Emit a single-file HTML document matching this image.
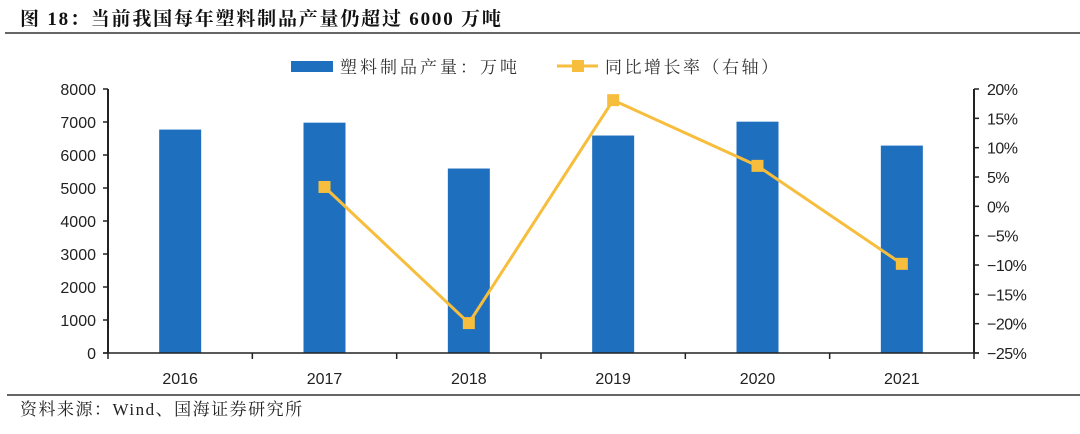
<!DOCTYPE html>
<html><head><meta charset="utf-8"><style>
body{margin:0;background:#fff;}
svg text{font-family:"Liberation Sans","Noto Sans CJK SC",sans-serif;}
</style></head><body>
<svg id="chart" width="1080" height="429" viewBox="0 0 1080 429" xmlns="http://www.w3.org/2000/svg">
<text x="20" y="25" font-size="19" font-weight="bold" fill="#111" letter-spacing="1.8" style="font-family:'Liberation Serif','Noto Serif CJK SC',serif">图 18：当前我国每年塑料制品产量仍超过 6000 万吨</text>
<line x1="5" y1="33" x2="1080" y2="33" stroke="#666" stroke-width="2"/>
<g>
<rect x="291" y="61" width="42" height="11" fill="#1f6fbf"/>
<text x="340" y="73" font-size="17" fill="#333" letter-spacing="3" style="font-family:'Liberation Serif','Noto Serif CJK SC',serif">塑料制品产量：万吨</text>
<line x1="557" y1="66" x2="598" y2="66" stroke="#f7bd3c" stroke-width="3"/>
<rect x="572" y="60" width="12" height="12" fill="#f7bd3c"/>
<text x="605" y="73" font-size="17" fill="#333" letter-spacing="2.5" style="font-family:'Liberation Serif','Noto Serif CJK SC',serif">同比增长率（右轴）</text>
</g>
<g id="plot"></g>
<line x1="7" y1="395" x2="1080" y2="395" stroke="#666" stroke-width="2"/>
<text x="20" y="415" font-size="17" fill="#222" letter-spacing="1.5" style="font-family:'Liberation Serif','Noto Serif CJK SC',serif">资料来源：Wind、国海证券研究所</text>
</svg>
<script>
const categories=["2016","2017","2018","2019","2020","2021"];
const production=[6770,6980,5590,6590,7010,6285];
const growth=[null,3.3,-19.9,18.1,6.9,-9.8];
const leftTicks=[0,1000,2000,3000,4000,5000,6000,7000,8000];
const rightTicks=[-25,-20,-15,-10,-5,0,5,10,15,20];
const NS="http://www.w3.org/2000/svg";
const g=document.getElementById('plot');
const X0=108,X1=974,Y0=353,Y1=89;
const bw=(X1-X0)/categories.length;
const xc=i=>X0+bw*(i+0.5);
const yL=v=>Y0-(v-0)/(8000-0)*(Y0-Y1);
const yR=v=>Y0-(v+25)/45*(Y0-Y1);
function mk(t,a){const e=document.createElementNS(NS,t);for(const k in a)e.setAttribute(k,a[k]);g.appendChild(e);return e;}
production.forEach((v,i)=>{
 const r=mk('rect',{x:xc(i)-21,y:yL(v),width:42,height:Y0-yL(v),fill:'#1f6fbf'});
 
 
});
let ax=mk('line',{x1:X0,y1:Y1,x2:X0,y2:Y0,stroke:'#222','stroke-width':2});


ax=mk('line',{x1:X1,y1:Y1,x2:X1,y2:Y0,stroke:'#222','stroke-width':2});


ax=mk('line',{x1:X0-5,y1:Y0,x2:X1+5,y2:Y0,stroke:'#222','stroke-width':1.5});


leftTicks.forEach(v=>{
 mk('line',{x1:X0-5,y1:yL(v),x2:X0,y2:yL(v),stroke:'#222','stroke-width':1.5});
 const t=mk('text',{x:X0-12,y:yL(v)+6,'font-size':16,'text-anchor':'end',fill:'#222'});
 t.textContent=v;
 
 
});
rightTicks.forEach(v=>{
 mk('line',{x1:X1,y1:yR(v),x2:X1+5,y2:yR(v),stroke:'#222','stroke-width':1.5});
 const t=mk('text',{x:X1+13,y:yR(v)+6,'font-size':16,fill:'#222','letter-spacing':'-0.5'});
 t.textContent=(v<0?'−'+(-v):v)+'%';
 
 
});
for(let i=0;i<=categories.length;i++){
 mk('line',{x1:X0+bw*i,y1:Y0,x2:X0+bw*i,y2:Y0+6,stroke:'#222','stroke-width':1.5});
}
categories.forEach((c,i)=>{
 const t=mk('text',{x:xc(i),y:384,'font-size':16,'text-anchor':'middle',fill:'#222'});
 t.textContent=c;
 
 
});
const pts=[];growth.forEach((v,i)=>{if(v!==null)pts.push([xc(i),yR(v)]);});
const pl=mk('polyline',{points:pts.map(p=>p.join(',')).join(' '),fill:'none',stroke:'#f7bd3c','stroke-width':3});


growth.forEach((v,i)=>{
 if(v===null)return;
 const m=mk('rect',{x:xc(i)-6,y:yR(v)-6,width:12,height:12,fill:'#f7bd3c'});
 
 
});
</script>
</body></html>
